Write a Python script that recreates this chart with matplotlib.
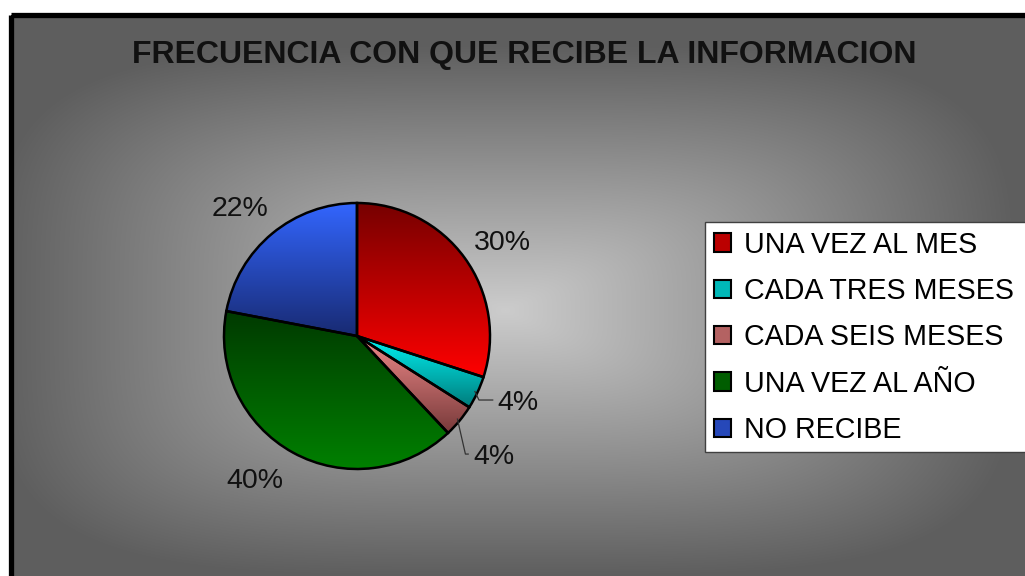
import numpy as np
import matplotlib
matplotlib.use('Agg')
import matplotlib.pyplot as plt
from matplotlib.patches import Rectangle
from matplotlib.colors import to_rgb

# Chart data
categories = ['UNA VEZ AL MES', 'CADA TRES MESES', 'CADA SEIS MESES', 'UNA VEZ AL AÑO', 'NO RECIBE']
values = [30, 4, 4, 40, 22]
title = 'FRECUENCIA CON QUE RECIBE LA INFORMACION'

# Gradient colours for each slice (top, bottom)
top_colors = ['#760000', '#00f4f4', '#f08a8a', '#003a00', '#3366ff']
bottom_colors = ['#ff0000', '#007c7c', '#783a3a', '#008000', '#182a72']

# label placement tweaks (angle shift in degrees, radius)
label_shift = [-3.3, 2.7, -1.9, -6.4, 2.9]
label_radius = [1.30, 1.31, 1.37, 1.33, 1.30]

plt.rcParams['font.family'] = ['Liberation Sans', 'DejaVu Sans']

W, H = 1025, 576
fig = plt.figure(figsize=(W / 100, H / 100), dpi=100)
fig.set_facecolor('white')

# Background with a rectangular light-centre gradient
ax_bg = fig.add_axes([0, 0, 1, 1])
ax_bg.set_xlim(0, W)
ax_bg.set_ylim(H, 0)
ax_bg.axis('off')
gx, gy = np.meshgrid(np.arange(13, W), np.arange(17, H))
d = (np.abs((gx - 505) / 510.0) ** 4 + np.abs((gy - 310) / 265.0) ** 4) ** (1 / 4)
d = np.clip(d, 0, 1)
shade = 0.80 - (0.80 - 0.37) * d
ax_bg.imshow(np.dstack([shade] * 3), extent=[13, W, H, 17], aspect='auto',
             interpolation='bilinear', zorder=0)
ax_bg.add_patch(Rectangle((10.5, 14.5), 1200, 800, fill=False, edgecolor='black',
                          linewidth=3.8, zorder=1))

fig.text(524 / W, 1 - 55 / H, title, ha='center', va='center', fontsize=23,
         fontweight='bold', color='#111111')

# Pie
cx, cy, r = 357, 336, 133
ax = fig.add_axes([(cx - r) / W, 1 - (cy + r) / H, 2 * r / W, 2 * r / H])
wedges, texts, autotexts = ax.pie(values, startangle=90, counterclock=False,
                                  autopct='%1.0f%%', pctdistance=1.3,
                                  wedgeprops=dict(edgecolor='black', linewidth=1.8),
                                  textprops=dict(fontsize=20.5, color='#111111'))

for w, c1, c2 in zip(wedges, top_colors, bottom_colors):
    ext = w.get_path().get_extents()
    t = np.linspace(0, 1, 200)[:, None]
    grad = (1 - t) * np.array(to_rgb(c1)) + t * np.array(to_rgb(c2))
    im = ax.imshow(grad[:, None, :], extent=[ext.x0, ext.x1, ext.y0, ext.y1],
                   aspect='auto', interpolation='bilinear', zorder=1)
    im.set_clip_path(w)
    w.set_facecolor('none')
    w.set_zorder(2)

# slice mid angles and label positions
angles = []
start = 90
for v in values:
    angles.append(start - v * 3.6 / 2)
    start -= v * 3.6
for txt, a, s, rr in zip(autotexts, angles, label_shift, label_radius):
    th = np.deg2rad(a + s)
    txt.set_position((rr * np.cos(th), rr * np.sin(th)))

# Leader lines for the small slices
for i, dx in ((1, 0.03), (2, 0.06)):
    a = np.deg2rad(angles[i])
    x0, y0 = np.cos(a) * 0.98, np.sin(a) * 0.98
    tx, ty = autotexts[i].get_position()
    ax.plot([x0, x0 + dx, tx - 0.19], [y0, ty + 0.02, ty + 0.02],
            color='#333333', lw=0.9, clip_on=False)

ax.set_xlim(-1, 1)
ax.set_ylim(-1, 1)
ax.set_aspect('auto')
ax.axis('off')

# Legend
mid_colors = [tuple((np.array(to_rgb(a)) + np.array(to_rgb(b))) / 2)
              for a, b in zip(top_colors, bottom_colors)]
handles = [Rectangle((0, 0), 1, 1, facecolor=c, edgecolor='black', linewidth=1.5)
           for c in mid_colors]
leg = fig.legend(handles, categories, loc='upper left', mode='expand',
                 bbox_to_anchor=(705 / W, 1 - 222 / H, 340 / W, 0.0),
                 bbox_transform=fig.transFigure,
                 fontsize=20.6, frameon=True, fancybox=False, borderaxespad=0,
                 handlelength=0.6, handleheight=0.6, handletextpad=0.45,
                 labelspacing=0.64, borderpad=0.3)
leg.get_frame().set_edgecolor('#404040')
leg.get_frame().set_linewidth(1.0)
leg.get_frame().set_facecolor('white')
leg.get_frame().set_alpha(1)

plt.savefig('out.png', dpi=100, facecolor=fig.get_facecolor())
